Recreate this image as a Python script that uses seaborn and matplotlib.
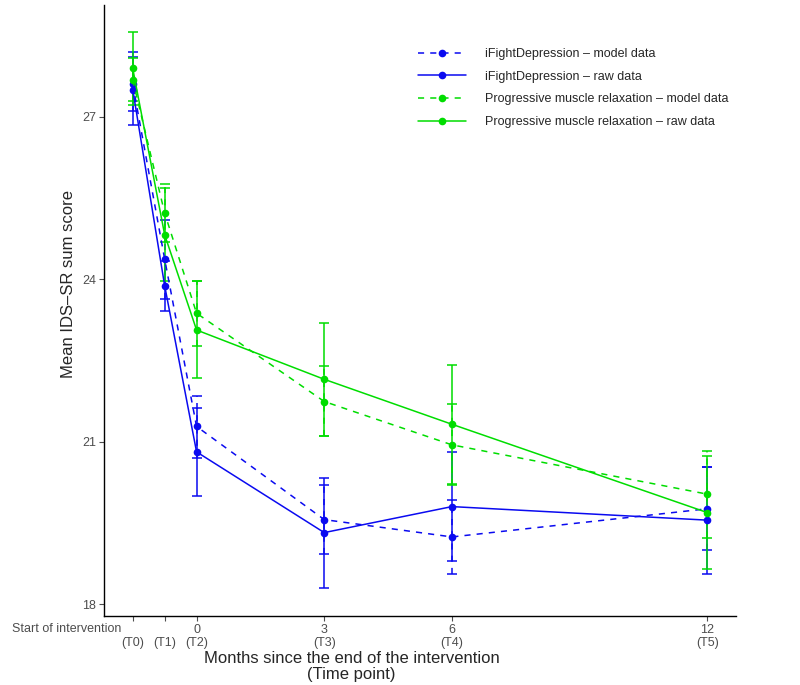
import numpy as np
import pandas as pd
import matplotlib
matplotlib.use("Agg")
import matplotlib.pyplot as plt
import seaborn as sns

# time axis (months since end of intervention)
months = [-1.5, -0.75, 0, 3, 6, 12]
tick_labels = ["\n(T0)", "\n(T1)", "0\n(T2)", "3\n(T3)", "6\n(T4)", "12\n(T5)"]

# iFightDepression
ifd_model = [27.60, 24.37, 21.28, 19.56, 19.24, 19.76]
ifd_model_lo = [27.10, 23.63, 20.70, 18.92, 18.56, 19.00]
ifd_model_hi = [28.10, 25.10, 21.84, 20.20, 19.92, 20.53]
ifd_raw = [27.50, 23.88, 20.81, 19.32, 19.80, 19.55]
ifd_raw_lo = [26.85, 23.42, 20.00, 18.30, 18.79, 18.56]
ifd_raw_hi = [28.19, 24.34, 21.62, 20.33, 20.81, 20.53]

# Progressive muscle relaxation
pmr_model = [27.68, 25.22, 23.37, 21.74, 20.94, 20.03]
pmr_model_lo = [27.28, 24.69, 22.76, 21.10, 20.19, 19.22]
pmr_model_hi = [28.08, 25.75, 23.97, 22.39, 21.69, 20.83]
pmr_raw = [27.89, 24.82, 23.06, 22.15, 21.32, 19.69]
pmr_raw_lo = [27.22, 23.96, 22.17, 21.10, 20.22, 18.64]
pmr_raw_hi = [28.57, 25.68, 23.97, 23.19, 22.41, 20.74]

series_names = [
    "iFightDepression – model data",
    "iFightDepression – raw data",
    "Progressive muscle relaxation – model data",
    "Progressive muscle relaxation – raw data",
]
series_vals = [ifd_model, ifd_raw, pmr_model, pmr_raw]
series_lo = [ifd_model_lo, ifd_raw_lo, pmr_model_lo, pmr_raw_lo]
series_hi = [ifd_model_hi, ifd_raw_hi, pmr_model_hi, pmr_raw_hi]

blue = "#0A0AF0"
green = "#00DD00"
palette = dict(zip(series_names, [blue, blue, green, green]))
dashes = dict(zip(series_names, [(4, 4), "", (4, 4), ""]))
markers = dict(zip(series_names, ["o"] * 4))

rows = []
for name, vals, lo, hi in zip(series_names, series_vals, series_lo, series_hi):
    for m, v, l, h in zip(months, vals, lo, hi):
        rows.append({"month": m, "score": v, "lo": l, "hi": h, "series": name})
df = pd.DataFrame(rows)

sns.set_theme(style="ticks")
plt.rcParams["font.family"] = ["Liberation Sans", "DejaVu Sans"]

fig = plt.figure(figsize=(8, 6.85), dpi=100)
ax = fig.add_axes([0.13, 0.1007, 0.79, 0.892])

# error bars first
for name in series_names:
    d = df[df["series"] == name]
    eb = ax.errorbar(d["month"], d["score"],
                     yerr=[d["score"] - d["lo"], d["hi"] - d["score"]],
                     fmt="none", ecolor=palette[name], elinewidth=1.1,
                     capsize=3.6, capthick=1.1)
    if "model" in name:
        eb[2][0].set_linestyle((0, (4, 4)))

sns.lineplot(data=df, x="month", y="score", hue="series", style="series",
             hue_order=series_names, style_order=series_names,
             palette=palette, dashes=dashes, markers=markers,
             markersize=5.5, markeredgewidth=0, linewidth=1.1,
             errorbar=None, ax=ax)

ax.set_xlim(-2.175, 12.675)
ax.set_ylim(17.78, 29.06)
ax.set_xticks(months, tick_labels)
ax.set_yticks([18, 21, 24, 27])
ax.tick_params(axis="both", labelsize=9, colors="#4D4D4D", length=3.5, width=0.8, pad=2)
for lbl in ax.get_xticklabels():
    lbl.set_linespacing(1.2)
for sp in ["left", "bottom"]:
    ax.spines[sp].set_linewidth(1.0)
    ax.spines[sp].set_color("black")
sns.despine(ax=ax)

ax.annotate("Start of intervention", xy=(months[0], 0),
            xycoords=("data", "axes fraction"), xytext=(-8, -5.2),
            textcoords="offset points", ha="right", va="top",
            fontsize=9, color="#4D4D4D")

ax.set_xlabel("Months since the end of the intervention\n(Time point)", fontsize=12,
              linespacing=1.05)
ax.set_ylabel("Mean IDS–SR sum score", fontsize=12)
ax.xaxis.set_label_coords(0.392, -0.058)
ax.yaxis.set_label_coords(-0.044, 0.543)

leg = ax.legend(loc="upper left", bbox_to_anchor=(0.4795, 0.948), frameon=False,
                fontsize=9, handlelength=3.8, handletextpad=1.5, labelspacing=0.85,
                title=None)

fig.savefig("out.png", dpi=100)
